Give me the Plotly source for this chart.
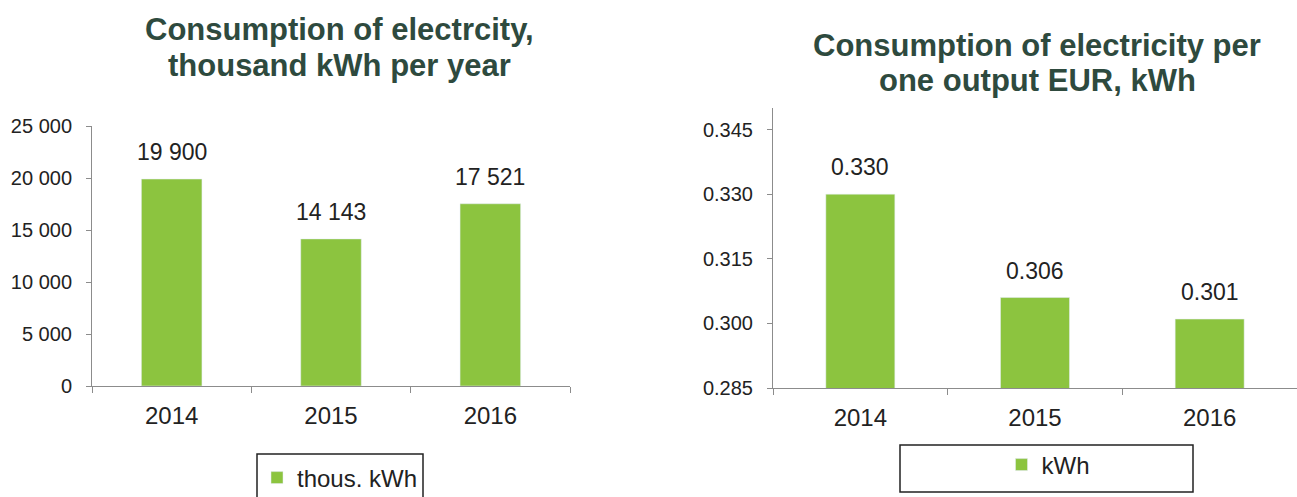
import plotly.graph_objects as go

W, H = 1297, 497

years = ["2014", "2015", "2016"]
consumption_thous_kwh = [19900, 14143, 17521]
kwh_per_eur = [0.330, 0.306, 0.301]

left_title = ["Consumption of electrcity,", "thousand kWh per year"]
right_title = ["Consumption of electricity per", "one output EUR, kWh"]
left_series_name = "thous. kWh"
right_series_name = "kWh"

left_yticks = [0, 5000, 10000, 15000, 20000, 25000]
right_yticks = [0.285, 0.300, 0.315, 0.330, 0.345]

BAR = "#8CC43F"
TITLE = "#2E4A3E"
AX = "#8C8C8C"
TXT = "#222222"
FONT = "Liberation Sans, Arial, sans-serif"


def px(x):
    return x / W


def py(y):
    return (H - y) / H


fig = go.Figure()
fig.add_trace(go.Bar(x=years, y=consumption_thous_kwh, name=left_series_name,
                     marker_color=BAR, width=0.38, xaxis="x", yaxis="y",
                     legend="legend", hoverinfo="x+y"))
fig.add_trace(go.Bar(x=years, y=kwh_per_eur, name=right_series_name,
                     marker_color=BAR, width=0.395, xaxis="x2", yaxis="y2",
                     legend="legend2", hoverinfo="x+y"))

annotations = []
for i, line in enumerate(left_title):
    annotations.append(dict(text="<b>%s</b>" % line, x=px(339), y=py([30, 66][i]),
                            xref="paper", yref="paper", xanchor="center", yanchor="middle",
                            showarrow=False, font=dict(size=31, color=TITLE, family=FONT)))
for i, line in enumerate(right_title):
    annotations.append(dict(text="<b>%s</b>" % line, x=px(1037), y=py([45, 80.5][i]),
                            xref="paper", yref="paper", xanchor="center", yanchor="middle",
                            showarrow=False, font=dict(size=31, color=TITLE, family=FONT)))

for i, yv in enumerate(consumption_thous_kwh):
    annotations.append(dict(text=f"{yv:,}".replace(",", " "), x=i, y=yv, xref="x", yref="y",
                            xanchor="center", yanchor="bottom", yshift=12, showarrow=False,
                            font=dict(size=23, color=TXT, family=FONT)))
for i, yv in enumerate(kwh_per_eur):
    annotations.append(dict(text=f"{yv:.3f}", x=i, y=yv, xref="x2", yref="y2",
                            xanchor="center", yanchor="bottom", yshift=12, showarrow=False,
                            font=dict(size=23, color=TXT, family=FONT)))

shapes = [
    dict(type="rect", xref="paper", yref="paper", x0=px(257), x1=px(423), y0=-0.1, y1=py(454),
         line=dict(color="#222222", width=1.5), fillcolor="rgba(0,0,0,0)"),
    dict(type="rect", xref="paper", yref="paper", x0=px(900), x1=px(1193), y0=py(492), y1=py(445),
         line=dict(color="#222222", width=1.5), fillcolor="rgba(0,0,0,0)"),
]

xaxis_common = dict(type="category", showline=True, linecolor=AX, linewidth=1,
                    ticks="outside", tickson="boundaries", ticklen=6, tickcolor=AX,
                    showgrid=False, zeroline=False, ticklabelstandoff=8,
                    tickfont=dict(size=24, color=TXT, family=FONT), fixedrange=True)
yaxis_common = dict(showline=True, linecolor=AX, linewidth=1, ticks="outside", ticklen=5,
                    tickcolor=AX, showgrid=False, zeroline=False, ticklabelstandoff=10,
                    tickfont=dict(size=20, color=TXT, family=FONT), fixedrange=True)

fig.update_layout(
    width=W, height=H,
    margin=dict(l=0, r=0, t=0, b=0, autoexpand=False),
    paper_bgcolor="white", plot_bgcolor="white",
    font=dict(family=FONT, color=TXT),
    separators=". ",
    barmode="group",
    bargap=0.6,
    xaxis=dict(domain=[px(92), px(570)], anchor="y", range=[-0.5, 2.5], **xaxis_common),
    yaxis=dict(domain=[py(386), py(126)], anchor="x", range=[0, 25000],
               tickvals=left_yticks, tickformat=",.0f", **yaxis_common),
    xaxis2=dict(domain=[px(773), 1.0], anchor="y2", range=[-0.5, 2.5], **xaxis_common),
    yaxis2=dict(domain=[py(388), py(108)], anchor="x2", range=[0.285, 0.35],
                tickvals=right_yticks, tickformat=".3f", **yaxis_common),
    legend=dict(x=px(340), y=py(478), xanchor="center", yanchor="middle",
                bgcolor="rgba(0,0,0,0)", borderwidth=0,
                font=dict(size=24, color=TXT, family=FONT), itemwidth=30),
    legend2=dict(x=px(1048), y=py(465), xanchor="center", yanchor="middle",
                 bgcolor="rgba(0,0,0,0)", borderwidth=0,
                 font=dict(size=24, color=TXT, family=FONT), itemwidth=30),
    annotations=annotations,
    shapes=shapes,
    showlegend=True,
)

fig.write_html(
    "out.html",
    config={"displayModeBar": False},
    post_script="document.body.style.margin='0';document.body.style.overflow='hidden';",
)
